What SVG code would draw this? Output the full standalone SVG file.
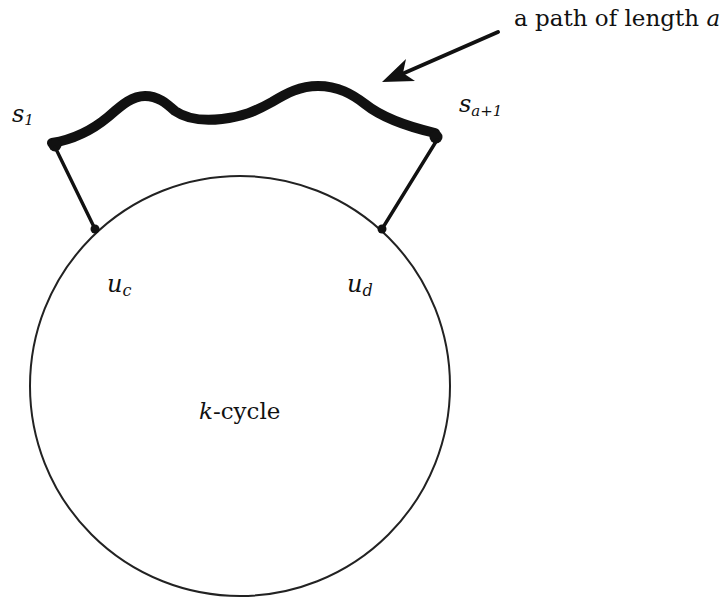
<svg xmlns="http://www.w3.org/2000/svg" width="726" height="601" viewBox="0 0 726 601">
<style>
  text { font-family: "DejaVu Serif", "Liberation Serif", serif; fill: #111; }
  .it { font-style: italic; }
  .edge { stroke: #111; stroke-width: 3.4; fill: none; stroke-linecap: round; }
  .dot { fill: #111; }
</style>
<rect width="726" height="601" fill="#fff"/>
<g id="cycle">
  <circle cx="240" cy="386" r="210" fill="none" stroke="#222" stroke-width="2"/>
  <text x="199" y="419" font-size="23"><tspan class="it">k</tspan>-cycle</text>
</g>
<g id="path-a">
  <path d="M52,143 C70,140 90,132 108,117 C122,105 132,96 145,96 C158,96 166,103 175,111 C188,120 205,121 222,119 C242,117 256,111 272,102 C287,93 300,86 318,86 C338,86 352,94 365,104 C380,116 405,126 435,133" fill="none" stroke="#111" stroke-width="10" stroke-linecap="round" stroke-linejoin="round"/>
</g>
<g id="s1">
  <circle class="dot" cx="55" cy="145" r="6.5"/>
  <text x="12" y="122" font-size="24" class="it">s<tspan font-size="15" dy="3">1</tspan></text>
</g>
<g id="sa1">
  <circle class="dot" cx="436" cy="137" r="6.5"/>
  <text x="459" y="112" font-size="24" class="it">s<tspan font-size="15" dy="4">a+1</tspan></text>
</g>
<g id="uc">
  <circle class="dot" cx="95" cy="229" r="4.5"/>
  <text x="107" y="292" font-size="24" class="it">u<tspan font-size="16" dy="4">c</tspan></text>
</g>
<g id="ud">
  <circle class="dot" cx="382" cy="229" r="4.5"/>
  <text x="347" y="292" font-size="24" class="it">u<tspan font-size="16" dy="4">d</tspan></text>
</g>
<g id="connectors">
  <line class="edge" x1="55" y1="147" x2="95" y2="229"/>
  <line class="edge" x1="437" y1="140" x2="382" y2="229"/>
  <line x1="498" y1="32" x2="402" y2="74" stroke="#111" stroke-width="4" stroke-linecap="round"/>
  <polygon points="382,82 406,59 403,73 415,81" fill="#111"/>
</g>
<g id="label">
  <text x="514" y="26" font-size="23">a path of length <tspan class="it">a</tspan></text>
</g>
</svg>
